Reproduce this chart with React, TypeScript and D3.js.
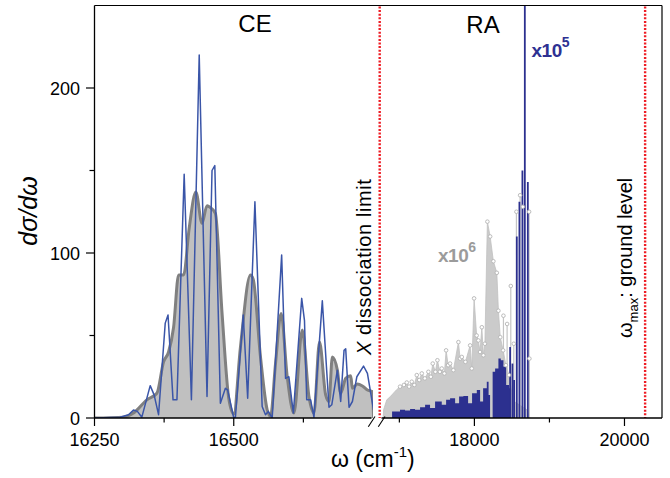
import React from "react";
import * as d3 from "d3";

// ---------- data (omega in cm^-1, value dσ/dω) ----------
// CE region: exact (blue) and smoothed (gray) cross sections
const ceBlue: [number, number][] = [
  [16250, 0], [16296, 0.5], [16311, 2], [16320, 4.8], [16327, 4], [16335, 0.5],
  [16350, 19.6], [16357, 14], [16365, 2], [16377, 57.5], [16382, 62.4], [16391, 11],
  [16398, 11], [16411, 147.7], [16424, 11], [16438, 220], [16452, 13], [16461, 150],
  [16466, 153], [16476, 9], [16485, 18], [16489, 17], [16500, 0], [16503, 0.5],
  [16517, 62.4], [16525, 12], [16538, 131], [16551, 7], [16557, 2], [16562, 4],
  [16569, 0], [16586, 98.8], [16593, 24], [16599, 25], [16607, 3], [16622, 72.5],
  [16627, 59], [16631, 11], [16638, 11], [16644, 0.5], [16659, 71], [16671, 6.5],
  [16676, 8], [16686, 29], [16692, 10], [16698, 41], [16701, 42], [16707, 6.5],
  [16713, 10], [16721, 25], [16733, 31.5], [16740, 27], [16751, 4.7],
];

const ceGray: [number, number][] = [
  [16250, 0], [16302, 0.5], [16320, 3], [16344, 11], [16362, 15], [16374, 34],
  [16383, 40], [16392, 55], [16401, 86.7], [16410, 86.7], [16420, 115], [16432, 137],
  [16443, 118], [16452, 128.7], [16456, 128], [16467, 124], [16479, 63.6], [16491, 12],
  [16500, 2.4], [16512, 43], [16530, 86.7], [16535, 84], [16548, 37], [16560, 5],
  [16566, 1], [16575, 33], [16585, 63.4], [16596, 25], [16608, 3], [16623, 53.3],
  [16635, 13], [16644, 3], [16654, 46], [16665, 14], [16671, 10], [16677, 37],
  [16686, 29], [16692, 15], [16701, 24], [16710, 25.6], [16713, 18], [16722, 20.6],
  [16731, 19.4], [16740, 17], [16749, 16], [16751, 0],
];

// RA region: gray (x10^6) envelope, peaks and isolated stems
const raGrayEnvelope: [number, number][] = [
  [16785, 0], [16790, 5], [16832, 11], [16880, 13], [16920, 15], [16960, 17],
  [17009, 19], [17060, 20], [17099, 21.5], [17130, 19], [17165, 22], [17200, 20],
  [17232, 26], [17265, 23], [17299, 27], [17340, 24], [17387, 28], [17420, 25],
  [17445, 33], [17480, 28], [17507, 35], [17540, 28], [17565, 30], [17600, 27],
  [17623, 41], [17650, 32], [17676, 33], [17720, 29], [17787, 46], [17810, 36],
  [17832, 37], [17880, 34], [17943, 44], [17965, 30], [17996, 72.5], [18030, 50],
  [18053, 47], [18075, 40], [18099, 55], [18120, 38], [18140, 45], [18173, 119],
  [18210, 110], [18253, 95], [18299, 88], [18320, 65], [18345, 49], [18383, 41],
  [18420, 32], [18460, 26], [18500, 15], [18530, 10], [18700, 5], [18740, 0],
];

const raGrayStems: [number, number][] = [
  [18387, 62], [18436, 57], [18485, 80], [18525, 45], [18560, 125],
  [18609, 135], [18645, 128], [18729, 125], [18733, 36],
];

// RA region: blue (x10^5) envelope and tall stems
const raBlueEnvelope: [number, number][] = [
  [16899, 0], [16903, 4], [17009, 5], [17076, 4.5], [17143, 5.5], [17209, 5],
  [17276, 6.5], [17343, 8], [17409, 6], [17476, 10], [17565, 8], [17623, 11],
  [17676, 12], [17743, 9], [17796, 13], [17853, 13.3], [17916, 9], [17969, 15],
  [18032, 17], [18076, 10], [18116, 18], [18165, 22], [18189, 14], [18209, 0],
  [18229, 0], [18243, 28], [18276, 30], [18320, 36], [18352, 35], [18387, 31],
  [18423, 20], [18463, 18], [18475, 0],
];

const raBlueStems: [number, number][] = [
  [18476, 43], [18507, 33], [18529, 23], [18565, 110], [18600, 131],
  [18640, 150], [18672, 265], [18712, 143],
];

const dissociationLimit = 16738;
const omegaMax = 20275;

const yTicksMajor = [0, 100, 200];
const yTicksMinor = [50, 150];
const xLeftMajor = [16250, 16500];
const xLeftMinor = [16375, 16625];
const xRightMajor = [18000, 20000];
const xRightMinor = [17000, 19000];

// ---------- layout ----------
const W = 670;
const H = 478;
const TOP = 5.5;
const BOTTOM = 418;
const LEFT = 94.5;
const RIGHT = 662;

const FONT = "'Liberation Sans', Arial, Helvetica, sans-serif";

export default function App() {
  const y = d3.scaleLinear().domain([0, 250]).range([BOTTOM, TOP]);
  const xL = d3.scaleLinear().domain([16250, 16750]).range([LEFT, 373]);
  const xR = d3.scaleLinear().domain([16750, 20500]).range([380.6, RIGHT]);

  const grayArea = d3
    .area<[number, number]>()
    .x((d) => xL(d[0]))
    .y0(y(0))
    .y1((d) => y(d[1]))
    .curve(d3.curveMonotoneX);
  const grayLine = d3
    .line<[number, number]>()
    .x((d) => xL(d[0]))
    .y((d) => y(d[1]))
    .curve(d3.curveMonotoneX);
  const blueLine = d3
    .line<[number, number]>()
    .x((d) => xL(d[0]))
    .y((d) => y(d[1]));

  const raGrayArea = d3
    .area<[number, number]>()
    .x((d) => xR(d[0]))
    .y0(y(0))
    .y1((d) => y(d[1]));
  const raBlueArea = d3
    .area<[number, number]>()
    .x((d) => xR(d[0]))
    .y0(y(0))
    .y1((d) => y(d[1]))
    .curve(d3.curveStepAfter);

  const redX1 = xR(dissociationLimit);
  const redX2 = xR(omegaMax);

  const grayMarks = raGrayEnvelope.filter((d) => d[1] > 18).concat(raGrayStems);

  return (
    <div style={{ position: "fixed", left: 0, top: 0 }}>
      <svg width={W} height={H} style={{ display: "block", background: "#fff" }} fontFamily={FONT}>
        <defs>
          <clipPath id="clipL">
            <rect x={LEFT} y={TOP} width={373 - LEFT} height={BOTTOM - TOP} />
          </clipPath>
          <clipPath id="clipR">
            <rect x={380.6} y={TOP} width={RIGHT - 380.6} height={BOTTOM - TOP} />
          </clipPath>
        </defs>

        {/* CE region */}
        <g clipPath="url(#clipL)">
          <path d={grayArea(ceGray) || ""} fill="#c0c0c0" />
          <path d={grayLine(ceGray) || ""} fill="none" stroke="#808080" strokeWidth={3} strokeLinejoin="round" />
          <path d={blueLine(ceBlue) || ""} fill="none" stroke="#3a55a8" strokeWidth={1.5} strokeLinejoin="round" />
        </g>

        {/* RA region */}
        <g clipPath="url(#clipR)">
          <path d={raGrayArea(raGrayEnvelope) || ""} fill="#cbcbcb" stroke="#c0c0c0" strokeWidth={0.8} />
          {raGrayStems.map((d, i) => (
            <line key={"gs" + i} x1={xR(d[0])} x2={xR(d[0])} y1={y(0)} y2={y(d[1])} stroke="#c4c4c4" strokeWidth={1.2} />
          ))}
          <path d={raBlueArea(raBlueEnvelope) || ""} fill="#2c308f" />
          {raBlueStems.map((d, i) => (
            <line key={"bs" + i} x1={xR(d[0])} x2={xR(d[0])} y1={y(0)} y2={y(d[1])} stroke="#2c308f" strokeWidth={1.8} />
          ))}
          {grayMarks.map((d, i) => (
            <circle key={"gc" + i} cx={xR(d[0])} cy={y(d[1])} r={1.8} fill="#fff" stroke="#b4b4b4" strokeWidth={0.9} />
          ))}
        </g>

        {/* red dotted lines */}
        <line x1={redX1} x2={redX1} y1={TOP + 1} y2={BOTTOM} stroke="#ee1c24" strokeWidth={2.4} strokeDasharray="2,1.6" />
        <line x1={redX2} x2={redX2} y1={TOP + 1} y2={BOTTOM} stroke="#ee1c24" strokeWidth={2.4} strokeDasharray="2,1.6" />

        {/* frame */}
        <line x1={LEFT} x2={RIGHT} y1={TOP} y2={TOP} stroke="#000" strokeWidth={1.2} />
        <line x1={RIGHT} x2={RIGHT} y1={TOP} y2={BOTTOM} stroke="#000" strokeWidth={1.2} />
        <line x1={LEFT} x2={LEFT} y1={TOP} y2={BOTTOM} stroke="#000" strokeWidth={1.3} />
        <line x1={LEFT} x2={371.5} y1={BOTTOM} y2={BOTTOM} stroke="#000" strokeWidth={1.3} />
        <line x1={381.5} x2={RIGHT} y1={BOTTOM} y2={BOTTOM} stroke="#000" strokeWidth={1.3} />
        {/* axis break marks */}
        <line x1={368.3} y1={426.7} x2={375} y2={416.5} stroke="#000" strokeWidth={1.1} />
        <line x1={378.3} y1={426.7} x2={385} y2={416.5} stroke="#000" strokeWidth={1.1} />

        {/* y ticks */}
        {yTicksMajor.map((t) => (
          <g key={"ym" + t}>
            <line x1={LEFT - 8.5} x2={LEFT} y1={y(t)} y2={y(t)} stroke="#000" strokeWidth={1.2} />
            <text x={80} y={y(t) + 6.5} textAnchor="end" fontSize={18}>{t}</text>
          </g>
        ))}
        {yTicksMinor.map((t) => (
          <line key={"yn" + t} x1={LEFT - 5} x2={LEFT} y1={y(t)} y2={y(t)} stroke="#000" strokeWidth={1.2} />
        ))}

        {/* x ticks */}
        {xLeftMajor.map((t) => (
          <g key={"xlm" + t}>
            <line x1={xL(t)} x2={xL(t)} y1={BOTTOM} y2={BOTTOM + 8} stroke="#000" strokeWidth={1.2} />
            <text x={xL(t)} y={446} textAnchor="middle" fontSize={18}>{t}</text>
          </g>
        ))}
        {xLeftMinor.map((t) => (
          <line key={"xln" + t} x1={xL(t)} x2={xL(t)} y1={BOTTOM} y2={BOTTOM + 4.5} stroke="#000" strokeWidth={1.2} />
        ))}
        {xRightMajor.map((t) => (
          <g key={"xrm" + t}>
            <line x1={xR(t)} x2={xR(t)} y1={BOTTOM} y2={BOTTOM + 8} stroke="#000" strokeWidth={1.2} />
            <text x={xR(t)} y={446} textAnchor="middle" fontSize={18}>{t}</text>
          </g>
        ))}
        {xRightMinor.map((t) => (
          <line key={"xrn" + t} x1={xR(t)} x2={xR(t)} y1={BOTTOM} y2={BOTTOM + 4.5} stroke="#000" strokeWidth={1.2} />
        ))}

        {/* axis titles */}
        <text transform="translate(37,211) rotate(-90)" textAnchor="middle" fontSize={25} fontStyle="italic">dσ/dω</text>
        <text x={331} y={467} fontSize={23}>
          ω (cm<tspan fontSize={15} dy={-10}>-1</tspan><tspan dy={10}>)</tspan>
        </text>

        {/* annotations */}
        <text x={255} y={32} textAnchor="middle" fontSize={24}>CE</text>
        <text x={483} y={33} textAnchor="middle" fontSize={24}>RA</text>
        <text x={531.5} y={56.5} fontSize={19} fontWeight="bold" fill="#2e3192" letterSpacing={-0.5}>
          x10<tspan fontSize={14} dy={-10}>5</tspan>
        </text>
        <text x={438} y={262} fontSize={19} fontWeight="bold" fill="#9b9b9b" letterSpacing={-0.5}>
          x10<tspan fontSize={14} dy={-10}>6</tspan>
        </text>
        <text transform="translate(370.5,355) rotate(-90)" fontSize={20} letterSpacing={0.6}>
          <tspan fontStyle="italic">X</tspan> dissociation limit
        </text>
        <text transform="translate(632,338) rotate(-90)" fontSize={20}>
          ω<tspan fontSize={13} dy={6}>max</tspan><tspan dy={-6}>: ground level</tspan>
        </text>
      </svg>
    </div>
  );
}
